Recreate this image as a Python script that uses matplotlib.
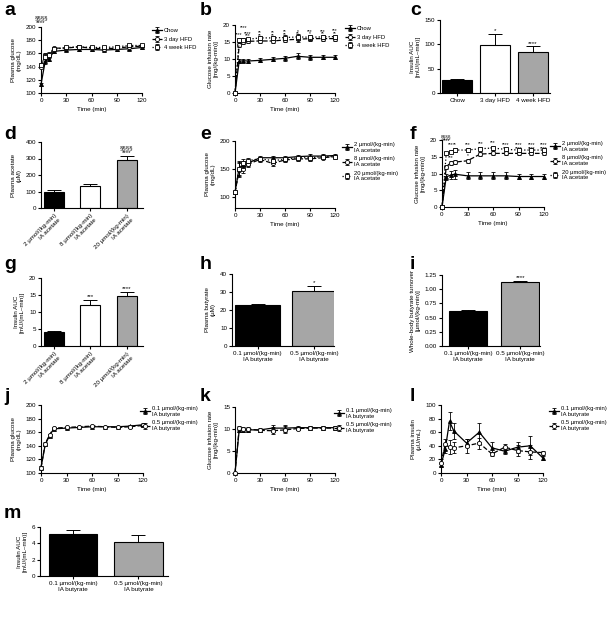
import matplotlib
matplotlib.use("Agg")
import matplotlib.pyplot as plt
import numpy as np

plt.rcParams['font.family'] = ['Liberation Sans', 'DejaVu Sans']
plt.rcParams['font.size'] = 4.5
plt.rcParams['axes.linewidth'] = 0.8
plt.rcParams['xtick.major.width'] = 0.8
plt.rcParams['ytick.major.width'] = 0.8
plt.rcParams['xtick.major.size'] = 2
plt.rcParams['ytick.major.size'] = 2
plt.rcParams['xtick.major.pad'] = 1.5
plt.rcParams['ytick.major.pad'] = 1.5

W, H = 612, 623

# ---- data ----
time = [0, 5, 10, 15, 30, 45, 60, 75, 90, 105, 120]

# a: plasma glucose, diet
a_chow = [113, 148, 152, 163, 165, 166, 166, 165, 166, 167, 169]
a_3d = [140, 157, 158, 168, 168, 170, 168, 167, 168, 170, 171]
a_4w = [143, 155, 157, 166, 169, 170, 169, 169, 170, 172, 172]
a_err = [2, 4, 4, 2, 2, 2, 2, 2, 2, 2, 2]

# b: glucose infusion rate, diet
b_chow = [0, 9.3, 9.5, 9.4, 9.6, 9.9, 10.2, 10.8, 10.5, 10.5, 10.5]
b_3d = [0, 14.0, 15.0, 15.2, 15.3, 15.3, 15.6, 15.8, 16.0, 16.0, 16.0]
b_4w = [0, 15.5, 15.7, 15.8, 16.2, 16.2, 16.3, 16.5, 16.4, 16.5, 16.6]
b_err = [0, 0.6, 0.5, 0.5, 0.6, 0.6, 0.7, 0.9, 0.7, 0.6, 0.6]
b_above = ['', '****', '****', '****', '**', '**', '**', '*', '***', '***', '***']
b_below = ['', '', '', '***', '**', '**', '**', '**', '*', '**', '**']

# c: insulin AUC, diet
c_groups = ['Chow', '3 day HFD', '4 week HFD']
c_vals = [26, 99, 84]
c_errs = [3, 23, 12]
c_sig = ['', '*', '****']

# acetate groups
ac_groups = ['2 µmol/(kg-min)\nIA acetate', '8 µmol/(kg-min)\nIA acetate',
             '20 µmol/(kg-min)\nIA acetate']
d_vals = [98, 135, 288]
d_errs = [10, 12, 28]
d_sig = ['', '', '§§§§\n****']

e_2 = [108, 152, 157, 160, 170, 170, 170, 172, 173, 173, 174]
e_8 = [108, 148, 150, 158, 167, 160, 166, 168, 168, 170, 172]
e_20 = [108, 150, 160, 165, 168, 165, 167, 170, 170, 172, 172]
e_err = [3, 12, 8, 5, 4, 4, 3, 3, 3, 3, 3]

f_2 = [0, 9.0, 9.5, 9.8, 9.3, 9.3, 9.3, 9.3, 9.1, 9.1, 9.1]
f_8 = [0, 12.0, 13.2, 13.4, 13.8, 15.8, 16.0, 16.0, 16.0, 16.0, 16.0]
f_20 = [0, 16.0, 16.5, 17.0, 17.0, 17.4, 17.6, 17.2, 17.0, 17.0, 17.0]
f_err = [0, 1.0, 1.2, 1.3, 1.0, 1.0, 1.0, 1.0, 0.8, 0.8, 0.8]
f_above = ['', '§§§§\n****', '***', '**', '***', '***', '***', '****', '****', '****', '****']
f_below = ['', '', '***', '', '*', '**', '***', '***', '****', '****', '****']

g_vals = [4.2, 12.0, 14.8]
g_errs = [0.3, 1.5, 1.2]
g_sig = ['', '***', '****']

# butyrate groups
bu_groups = ['0.1 µmol/(kg-min)\nIA butyrate', '0.5 µmol/(kg-min)\nIA butyrate']
h_vals = [22.5, 30.8]
h_errs = [0.7, 2.5]
h_sig = ['', '*']

i_vals = [0.62, 1.13]
i_errs = [0.02, 0.02]
i_sig = ['', '****']

j_01 = [108, 142, 155, 165, 166, 167, 168, 168, 168, 169, 171]
j_05 = [108, 143, 156, 166, 167, 168, 169, 168, 167, 168, 170]
j_err = [2, 2, 2, 1, 1, 1, 1, 1, 1, 1, 2]

k_01 = [0, 9.7, 9.8, 9.8, 9.8, 10.2, 10.2, 10.3, 10.3, 10.3, 10.3]
k_05 = [0, 10.2, 10.1, 10.0, 9.7, 9.6, 9.8, 10.1, 10.2, 10.2, 10.2]
k_err = [0, 0.4, 0.4, 0.4, 0.4, 0.8, 0.8, 0.4, 0.4, 0.4, 0.4]

l_01 = [12, 35, 76, 62, 44, 60, 37, 32, 38, 40, 22]
l_01_err = [3, 5, 13, 12, 6, 14, 8, 4, 8, 14, 3]
l_05 = [15, 42, 38, 37, 40, 44, 28, 38, 33, 31, 30]
l_05_err = [5, 8, 10, 8, 10, 8, 3, 4, 8, 10, 3]

m_vals = [5.1, 4.2]
m_errs = [0.5, 0.8]

fig = plt.figure(figsize=(W / 100, H / 100), dpi=100)


def add_ax(l, t, r, b):
    return fig.add_axes([l / W, 1 - b / H, (r - l) / W, (b - t) / H])


def style(ax):
    for s in ['top', 'right']:
        ax.spines[s].set_visible(False)
    ax.tick_params(labelsize=4.5)


def letter(x, y, s):
    fig.text(x / W, 1 - y / H, s, fontsize=14, fontweight='bold', va='top', ha='left')


styles = [dict(marker='^', mfc='black', ls='-', ms=2.8),
          dict(marker='o', mfc='white', ls='--', ms=3),
          dict(marker='s', mfc='white', ls=':', ms=3)]


def line_panel(ax, series, errs, labels, ylim, yticks, ylabel, legend_x=1.08):
    for k, (y, e) in enumerate(zip(series, errs)):
        st = styles[k]
        ax.errorbar(time, y, yerr=e, color='black', lw=0.9, elinewidth=0.6,
                    capsize=1.5, capthick=0.6, marker=st['marker'], mfc=st['mfc'],
                    mec='black', mew=0.6, ms=st['ms'], ls=st['ls'], label=labels[k],
                    clip_on=False, zorder=3 + k)
    ax.set_xlim(0, 120)
    ax.set_xticks([0, 30, 60, 90, 120])
    ax.set_ylim(*ylim)
    ax.set_yticks(yticks)
    ax.set_xlabel('Time (min)', fontsize=4.5, labelpad=3)
    ax.set_ylabel(ylabel, fontsize=4.5, labelpad=3)
    style(ax)
    ax.legend(loc='upper left', bbox_to_anchor=(legend_x, 1.02), frameon=False,
              fontsize=4.2, handlelength=1.6, handletextpad=0.4, labelspacing=0.6,
              borderaxespad=0)


def bar_panel(ax, groups, vals, errs, colors, ylim, yticks, ylabel, sig, width, xlim,
              rot=0, fmt=None):
    x = np.arange(len(vals))
    ax.bar(x, vals, width=width, color=colors, edgecolor='black', linewidth=0.8)
    ax.errorbar(x, vals, yerr=[np.zeros(len(errs)), errs], fmt='none', ecolor='black',
                elinewidth=0.7, capsize=5, capthick=0.7)
    for xi, v, e, s in zip(x, vals, errs, sig):
        if s:
            ax.text(xi, v + e + (ylim[1] - ylim[0]) * 0.01, s, ha='center', va='bottom',
                    fontsize=4.5, linespacing=0.9)
    ax.set_xlim(*xlim)
    ax.set_ylim(*ylim)
    ax.set_yticks(yticks)
    if fmt:
        ax.set_yticklabels([fmt.format(t) for t in yticks])
    ax.set_xticks(x)
    if rot:
        ax.set_xticklabels(groups, rotation=rot, ha='right', rotation_mode='anchor',
                           fontsize=4.5)
    else:
        ax.set_xticklabels(groups, fontsize=4.6)
    ax.set_ylabel(ylabel, fontsize=4.5, labelpad=3)
    style(ax)


def stars(ax, ts, ys, labels, base, extra, above=True):
    for idx, (t, y, s) in enumerate(zip(ts, ys, labels)):
        if not s:
            continue
        off = base + extra.get(idx, 0)
        if above:
            ax.text(t, y + off, s, ha='center', va='bottom', fontsize=3.5,
                    linespacing=0.85, clip_on=False)
        else:
            ax.text(t, y - off, s, ha='center', va='top', fontsize=3.5,
                    linespacing=0.85, clip_on=False)


# a
letter(4, 2, 'a')
ax = add_ax(41, 27, 142, 93)
line_panel(ax, [a_chow, a_3d, a_4w], [a_err] * 3, ['Chow', '3 day HFD', '4 week HFD'],
           (100, 200), [100, 120, 140, 160, 180, 200], 'Plasma glucose\n(mg/dL)')
ax.text(0, 203, '§§§§\n****', ha='center', va='bottom', fontsize=4.5, linespacing=0.9)

# b
letter(200, 2, 'b')
ax = add_ax(235, 25, 335, 93)
line_panel(ax, [b_chow, b_3d, b_4w], [b_err] * 3, ['Chow', '3 day HFD', '4 week HFD'],
           (0, 20), [0, 5, 10, 15, 20], 'Glucose infusion rate\n[mg/(kg-min)]')
stars(ax, time, b_4w, b_above, 0.9, {2: 1.8})
stars(ax, time, b_3d, b_below, 0.9, {})

# c
letter(410, 2, 'c')
ax = add_ax(440, 20, 550, 93)
bar_panel(ax, c_groups, c_vals, c_errs, ['black', 'white', '#a6a6a6'], (0, 150),
          [0, 50, 100, 150], 'Insulin AUC\n[mU/(mL–min)]', c_sig, 0.78, (-0.45, 2.45))

# d
letter(4, 126, 'd')
ax = add_ax(41, 142, 143, 208)
bar_panel(ax, ac_groups, d_vals, d_errs, ['black', 'white', '#a6a6a6'], (0, 400),
          [0, 100, 200, 300, 400], 'Plasma acetate\n(µM)', d_sig, 0.55, (-0.35, 2.45),
          rot=45)

# e
letter(200, 126, 'e')
ax = add_ax(235, 141, 335, 208)
line_panel(ax, [e_2, e_8, e_20], [e_err] * 3, ac_groups, (80, 200), [100, 150, 200],
           'Plasma glucose\n(mg/dL)', legend_x=1.05)

# f
letter(410, 126, 'f')
ax = add_ax(442, 140, 544, 207)
line_panel(ax, [f_2, f_8, f_20], [f_err, [0.6] * 11, [0.5] * 11],
           ac_groups, (0, 20), [0, 5, 10, 15, 20], 'Glucose infusion rate\n[mg/(kg-min)]',
           legend_x=1.04)
stars(ax, time, f_20, f_above, 0.8, {1: 2.2, 2: 0.6})
stars(ax, time, f_8, f_below, 0.8, {})

# g
letter(4, 256, 'g')
ax = add_ax(41, 278, 143, 346)
bar_panel(ax, ac_groups, g_vals, g_errs, ['black', 'white', '#a6a6a6'], (0, 20),
          [0, 5, 10, 15, 20], 'Insulin AUC\n[mU/(mL–min)]', g_sig, 0.55, (-0.35, 2.45),
          rot=45)

# h
letter(200, 256, 'h')
ax = add_ax(232, 274, 334, 346)
bar_panel(ax, bu_groups, h_vals, h_errs, ['black', '#a6a6a6'], (0, 40),
          [0, 10, 20, 30, 40], 'Plasma butyrate\n(µM)', h_sig, 0.8, (-0.45, 1.35))

# i
letter(410, 256, 'i')
ax = add_ax(442, 275, 540, 346)
bar_panel(ax, bu_groups, i_vals, i_errs, ['black', '#a6a6a6'], (0, 1.25),
          [0, 0.25, 0.5, 0.75, 1.0, 1.25], 'Whole-body butyrate turnover\n[µmol/(kg-min)]',
          i_sig, 0.72, (-0.5, 1.38), fmt='{:.2f}')

# j
letter(4, 388, 'j')
ax = add_ax(41, 405, 143, 473)
line_panel(ax, [j_01, j_05], [j_err] * 2, bu_groups, (100, 200),
           [100, 120, 140, 160, 180, 200], 'Plasma glucose\n(mg/dL)', legend_x=0.95)

# k
letter(200, 388, 'k')
ax = add_ax(235, 407, 335, 473)
line_panel(ax, [k_01, k_05], [k_err] * 2, bu_groups, (0, 15), [0, 5, 10, 15],
           'Glucose infusion rate\n[mg/(kg-min)]', legend_x=0.97)

# l
letter(410, 388, 'l')
ax = add_ax(441, 405, 543, 473)
line_panel(ax, [l_01, l_05], [l_01_err, l_05_err], bu_groups, (0, 100),
           [0, 20, 40, 60, 80, 100], 'Plasma insulin\n(µU/mL)', legend_x=1.04)

# m
letter(4, 505, 'm')
ax = add_ax(40, 527, 168, 576)
bar_panel(ax, bu_groups, m_vals, m_errs, ['black', '#a6a6a6'], (0, 6),
          [0, 2, 4, 6], 'Insulin AUC\n[mU/(mL–min)]', ['', ''], 0.74, (-0.5, 1.45))

fig.savefig('out.png', dpi=100)
